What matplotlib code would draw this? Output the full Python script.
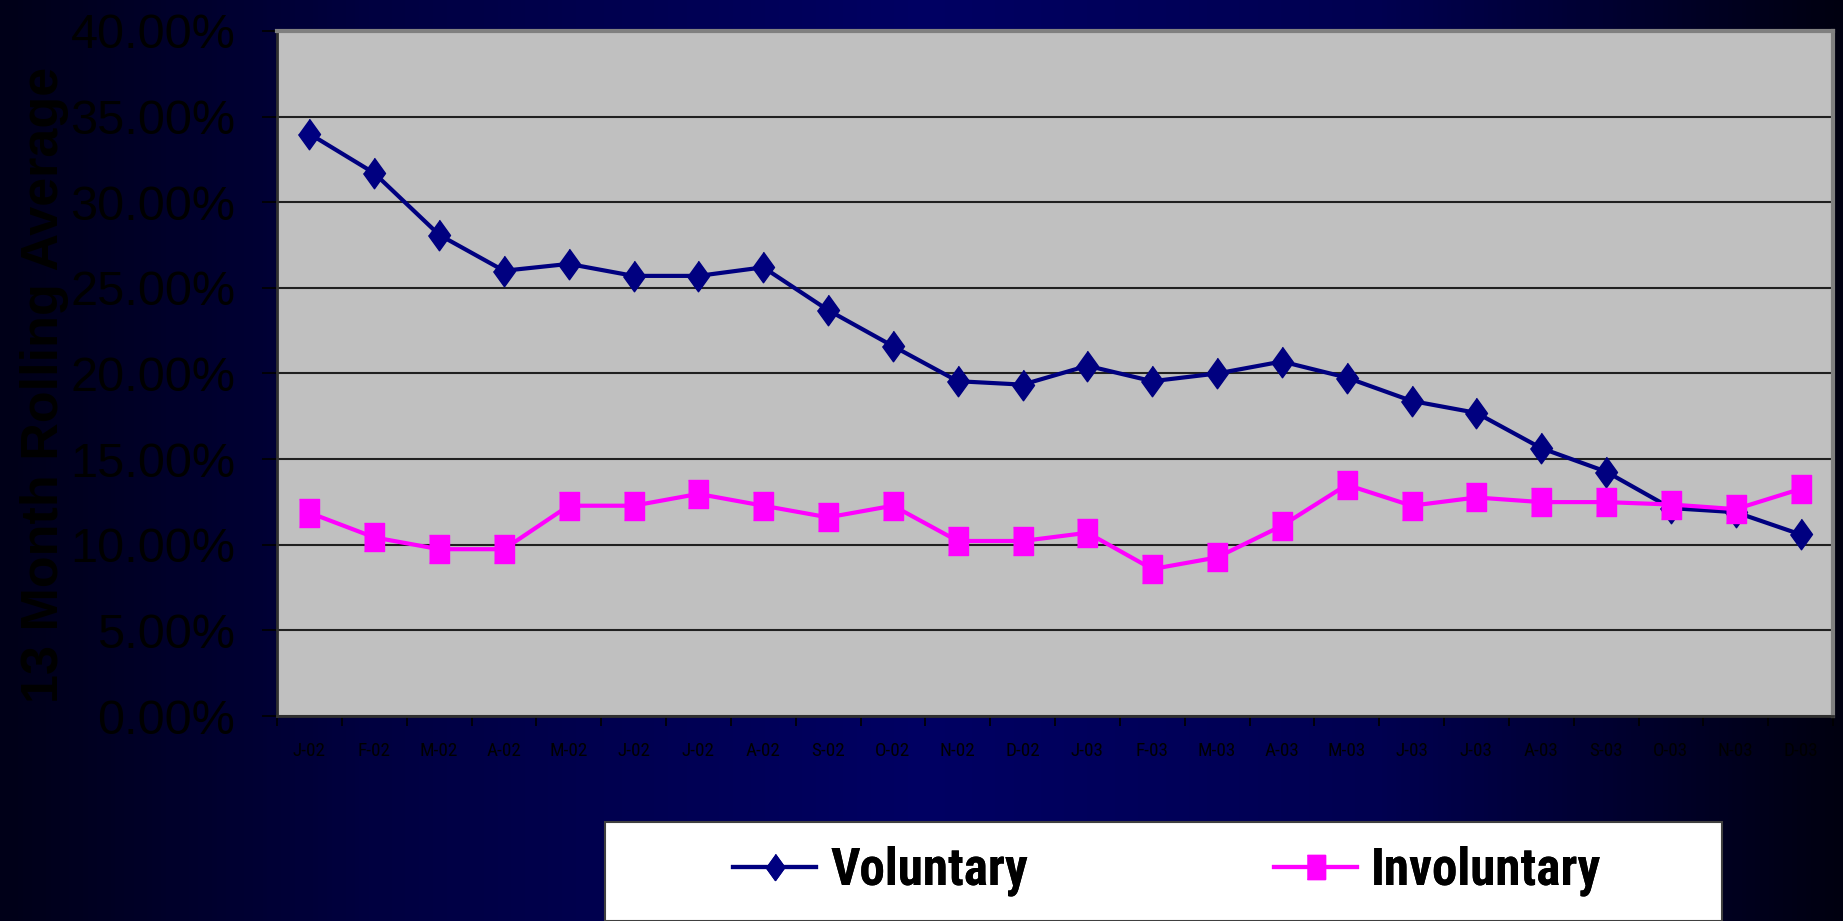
import numpy as np
import matplotlib
matplotlib.use('Agg')
import matplotlib.pyplot as plt
from matplotlib import font_manager
from matplotlib.colors import LinearSegmentedColormap
from matplotlib.patches import Rectangle
from matplotlib.lines import Line2D

# month labels, Jan-02 .. Dec-03
months = ['J-02', 'F-02', 'M-02', 'A-02', 'M-02', 'J-02', 'J-02', 'A-02', 'S-02', 'O-02', 'N-02', 'D-02',
          'J-03', 'F-03', 'M-03', 'A-03', 'M-03', 'J-03', 'J-03', 'A-03', 'S-03', 'O-03', 'N-03', 'D-03']
# 13 month rolling average, percent
voluntary = [34.0, 31.7, 28.1, 26.0, 26.4, 25.7, 25.7, 26.2, 23.7, 21.6, 19.55, 19.35,
             20.45, 19.55, 20.0, 20.7, 19.76, 18.4, 17.7, 15.64, 14.27, 12.14, 11.9, 10.6]
involuntary = [11.87, 10.43, 9.74, 9.74, 12.28, 12.28, 12.97, 12.28, 11.6, 12.28, 10.22, 10.22,
               10.7, 8.58, 9.26, 11.11, 13.5, 12.28, 12.76, 12.49, 12.49, 12.35, 12.08, 13.26]
y_ticks = [0, 5, 10, 15, 20, 25, 30, 35, 40]

# pick a narrow sans (Arial Narrow look)
names = {f.name for f in font_manager.fontManager.ttflist}
narrow = 'Liberation Sans'
for n in ['Liberation Sans Narrow', 'Roboto Condensed', 'Barlow Semi Condensed', 'Fira Sans Condensed']:
    if n in names:
        narrow = n
        break

W, H = 1843, 921
fig = plt.figure(figsize=(W / 100, H / 100), dpi=100)
renderer = fig.canvas.get_renderer()


def fit_size(s, family, weight, target_px, size=30):
    t = fig.text(0, 0, s, family=family, fontweight=weight, fontsize=size)
    w = t.get_window_extent(renderer).width
    t.remove()
    return size * target_px / w


# dark blue gradient background
bg = fig.add_axes([0, 0, 1, 1])
bg.set_axis_off()
cmap = LinearSegmentedColormap.from_list('bg', [(0.0, '#000018'), (0.2, '#000040'), (0.5, '#000063'),
                                                (0.75, '#000050'), (1.0, '#000010')])
grad = np.linspace(0, 1, 400).reshape(1, -1)
bg.imshow(grad, aspect='auto', cmap=cmap, extent=[0, 1, 0, 1])
bg.set_xlim(0, 1)
bg.set_ylim(0, 1)

ax = fig.add_axes([277 / W, (H - 716) / H, (1833 - 277) / W, (716 - 31) / H])
ax.set_facecolor('#C0C0C0')
x = np.arange(len(months))

diamond = [(0, 1), (0.72, 0), (0, -1), (-0.72, 0)]
rect = [(-0.37, -0.5), (0.37, -0.5), (0.37, 0.5), (-0.37, 0.5)]

ax.plot(x, voluntary, color='#000080', lw=3, marker=diamond, ms=22, zorder=3)
ax.plot(x, involuntary, color='#FF00FF', lw=3, marker=rect, ms=19.5, zorder=4)

ax.set_xlim(-0.5, len(months) - 0.5)
ax.set_ylim(0, 40)
ax.set_yticks(y_ticks)
ax.set_yticklabels(['%.2f%%' % v for v in y_ticks], fontsize=35, family='Liberation Sans', color='black')
ax.yaxis.grid(True, color='#202020', lw=1.5)
ax.set_axisbelow(True)
ax.tick_params(axis='y', length=11, width=1.2, color='black', pad=19)

ax.set_xticks(x)
ax.set_xticklabels(months, fontsize=fit_size('M-02', narrow, 'normal', 38), family=narrow, color='black')
ax.set_xticks(np.arange(-0.5, len(months)), minor=True)
ax.tick_params(axis='x', which='major', length=0, pad=19)
ax.tick_params(axis='x', which='minor', length=7, width=1.2, color='black')

for side in ['top', 'right']:
    ax.spines[side].set_color('#808080')
    ax.spines[side].set_linewidth(3)
for side in ['left', 'bottom']:
    ax.spines[side].set_color('#303030')
    ax.spines[side].set_linewidth(2)

fig.text(45 / W, (H - 385) / H, '13 Month Rolling Average', rotation=90, ha='center', va='center',
         fontsize=37.5, fontweight='bold', family='Liberation Sans', color='black')

# legend box
fig.patches.append(Rectangle((605 / W, 0), (1722 - 605) / W, 99 / H, transform=fig.transFigure,
                             facecolor='white', edgecolor='#404040', lw=1.5, zorder=1))
leg_size = fit_size('Voluntary', narrow, 'bold', 198)
series = [('Voluntary', '#000080', diamond, 22, 733), ('Involuntary', '#FF00FF', rect, 19.5, 1274)]
for label, col, mk, ms, x0 in series:
    h = Line2D([], [], color=col, lw=3, marker=mk, ms=ms * 0.85)
    leg = fig.legend([h], [label], loc='center left', bbox_to_anchor=(x0 / W, 50 / H), frameon=False,
                     prop={'family': narrow, 'weight': 'bold', 'size': leg_size},
                     handlelength=83 / (leg_size * 100 / 72), handletextpad=14 / (leg_size * 100 / 72),
                     borderpad=0, borderaxespad=0)
    fig.add_artist(leg)

fig.savefig('out.png', dpi=100, facecolor='#000030')
